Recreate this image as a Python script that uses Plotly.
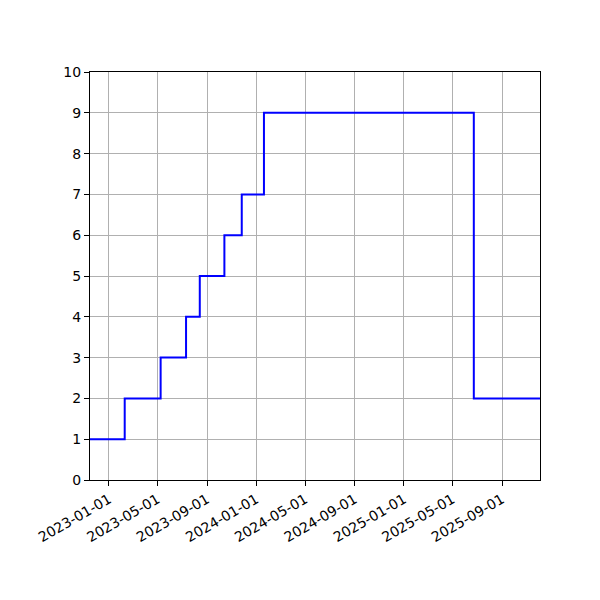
import plotly.graph_objects as go

# step dates and the value held from each date on
step_dates = ['2022-11-15', '2023-02-09', '2023-05-09', '2023-07-11', '2023-08-14',
              '2023-10-14', '2023-11-26', '2024-01-20', '2025-06-23', '2025-12-04']
step_values = [1, 2, 3, 4, 5, 6, 7, 9, 2, 2]

x_tick_vals = ['2023-01-01', '2023-05-01', '2023-09-01', '2024-01-01', '2024-05-01',
               '2024-09-01', '2025-01-01', '2025-05-01', '2025-09-01']
y_tick_vals = list(range(0, 11))

FONT = 'DejaVu Sans'
GRID = '#b0b0b0'

fig = go.Figure()
fig.add_trace(go.Scatter(x=step_dates, y=step_values, mode='lines',
                         line=dict(color='blue', width=2, shape='hv'),
                         showlegend=False))

axis_common = dict(showline=True, linecolor='black', linewidth=1, mirror=True,
                   showgrid=True, gridcolor=GRID, gridwidth=1,
                   ticks='outside', ticklen=5, tickwidth=1, tickcolor='black',
                   zeroline=False, tickfont=dict(family=FONT, size=14, color='black'))

fig.update_xaxes(axis_common, type='date', range=['2022-11-15', '2025-12-04'],
                 tickmode='array', tickvals=x_tick_vals, ticktext=x_tick_vals,
                 tickangle=-30)
fig.update_yaxes(axis_common, range=[0, 10], tickmode='array', tickvals=y_tick_vals)

# page body adds 8px, so margins are offset to land the plot area at 90..540 x 72..480
fig.update_layout(width=600, height=600,
                  margin=dict(l=82, r=68, t=64, b=128),
                  plot_bgcolor='white', paper_bgcolor='white',
                  font=dict(family=FONT, size=14, color='black'))

fig.write_html('out.html')
